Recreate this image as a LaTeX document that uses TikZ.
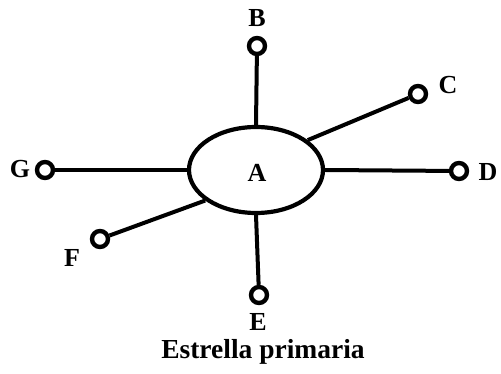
\documentclass[tikz,border=0pt]{standalone}
\usepackage{fontspec}
\setmainfont{Liberation Serif}
\usetikzlibrary{shapes.geometric}
\begin{document}
\begin{tikzpicture}[x=1pt,y=-1pt,
  lw/.style={line width=4pt},
  term/.style={circle,draw,line width=4.4pt,minimum size=16pt,inner sep=0pt,fill=white},
  lbl/.style={font=\bfseries\fontsize{26}{26}\selectfont,inner sep=0pt},
  hub/.style={ellipse,draw,line width=4.2pt,minimum width=134pt,minimum height=86pt,inner sep=0pt}]
\useasboundingbox (0,0) rectangle (501,374);
\node[hub] (A) at (256,170) {};
\node[lbl] (Al) at (257,173) {A};
\node[term] (B) at (257,46) {};
\node[term] (C) at (418,94) {};
\node[term] (D) at (459,171) {};
\node[term] (E) at (259,295) {};
\node[term] (F) at (100,239) {};
\node[term] (G) at (45,170) {};
\draw[lw] (B) -- (A.north);
\draw[lw] (C) -- (A.30);
\draw[lw] (D) -- (A.east);
\draw[lw] (E) -- (A.south);
\draw[lw] (F) -- (A.211);
\draw[lw] (G) -- (A.west);
\node[lbl] (Bl) at (257,18) {B};
\node[lbl] (Cl) at (448,85) {C};
\node[lbl] (Dl) at (488,172) {D};
\node[lbl] (El) at (258,322) {E};
\node[lbl] (Fl) at (72,258) {F};
\node[lbl] (Gl) at (20,169) {G};
\node[font=\bfseries\fontsize{27.5}{27.5}\selectfont,inner sep=0pt] (cap) at (263,352) {Estrella primaria};
\end{tikzpicture}
\end{document}
